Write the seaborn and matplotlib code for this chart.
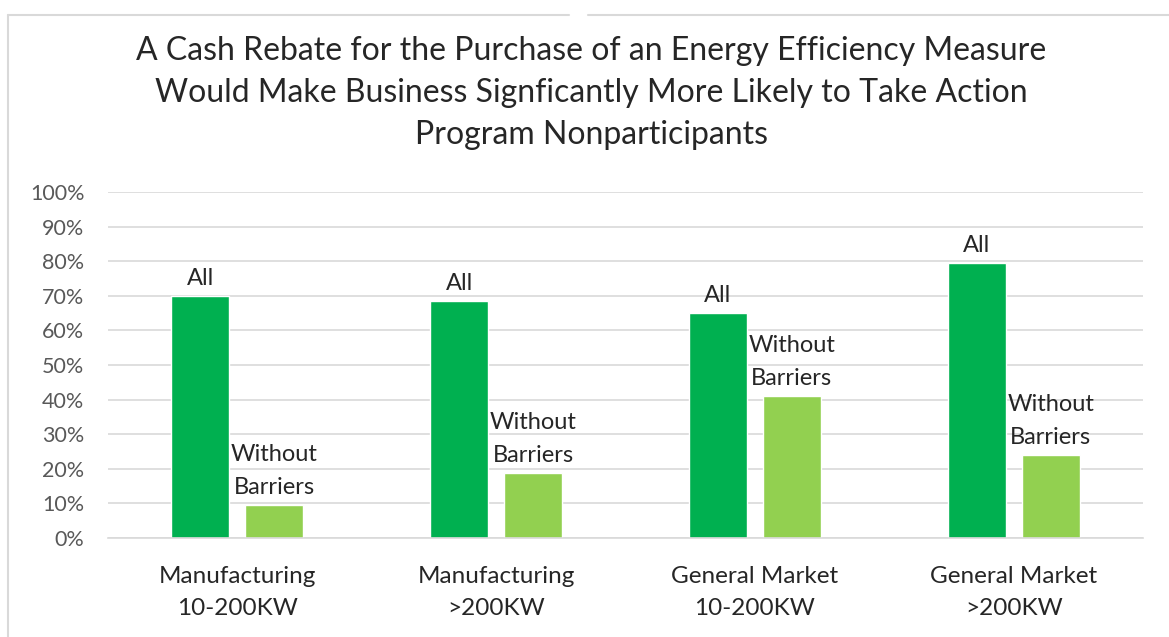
import pandas as pd
import seaborn as sns
import matplotlib.pyplot as plt
from matplotlib.lines import Line2D

categories = ["Manufacturing\n10-200KW", "Manufacturing\n>200KW",
              "General Market\n10-200KW", "General Market\n>200KW"]
all_vals = [70, 68.5, 65, 79.5]
wb_vals = [9.5, 18.7, 41, 24]
series = ["All", "Without\nBarriers"]
yticks = list(range(0, 101, 10))

df = pd.DataFrame({
    "category": categories * 2,
    "series": [series[0]] * 4 + [series[1]] * 4,
    "value": all_vals + wb_vals,
})

sns.set_theme(style="white")
plt.rcParams["font.family"] = ["Lato", "DejaVu Sans"]

fig = plt.figure(figsize=(11.69, 6.37), dpi=100)
ax = fig.add_axes([0.0924, 0.1554, 0.8854, 0.5432])

sns.barplot(data=df, x="category", y="value", hue="series",
            palette=["#00B050", "#92D050"], width=0.572, gap=0.215,
            saturation=1, legend=False, ax=ax)

for cont, lab in zip(ax.containers, series):
    ax.bar_label(cont, labels=[lab] * len(cont), padding=5,
                 fontsize=17, color="#262626", linespacing=1.7)

ax.set_ylim(0, 100)
ax.set_yticks(yticks)
ax.set_yticklabels([f"{t}%" for t in yticks], fontsize=15.5, color="#595959")
ax.tick_params(axis="x", labelsize=17.5, labelcolor="#262626", pad=20, length=0)
ax.tick_params(axis="y", length=0, pad=17)
for lab in ax.get_xticklabels():
    lab.set_linespacing(1.68)
ax.yaxis.grid(True, color="#D9D9D9", linewidth=1.2)
ax.set_axisbelow(True)
for s in ["top", "right", "left"]:
    ax.spines[s].set_visible(False)
ax.spines["bottom"].set_color("#D9D9D9")
ax.spines["bottom"].set_linewidth(1.2)
ax.set_xlabel("")
ax.set_ylabel("")

fig.text(0.506, 0.944,
         "A Cash Rebate for the Purchase of an Energy Efficiency Measure\n"
         "Would Make Business Signficantly More Likely to Take Action\n"
         "Program Nonparticipants",
         ha="center", va="top", fontsize=23, color="#262626", linespacing=1.5)

# chart frame
fig.add_artist(Line2D([0.007, 0.007], [0, 0.977], color="#D9D9D9", lw=1.5))
fig.add_artist(Line2D([0.007, 0.487], [0.977, 0.977], color="#D9D9D9", lw=1.5))
fig.add_artist(Line2D([0.503, 1.0], [0.977, 0.977], color="#D9D9D9", lw=1.5))

fig.savefig("out.png", dpi=100)
